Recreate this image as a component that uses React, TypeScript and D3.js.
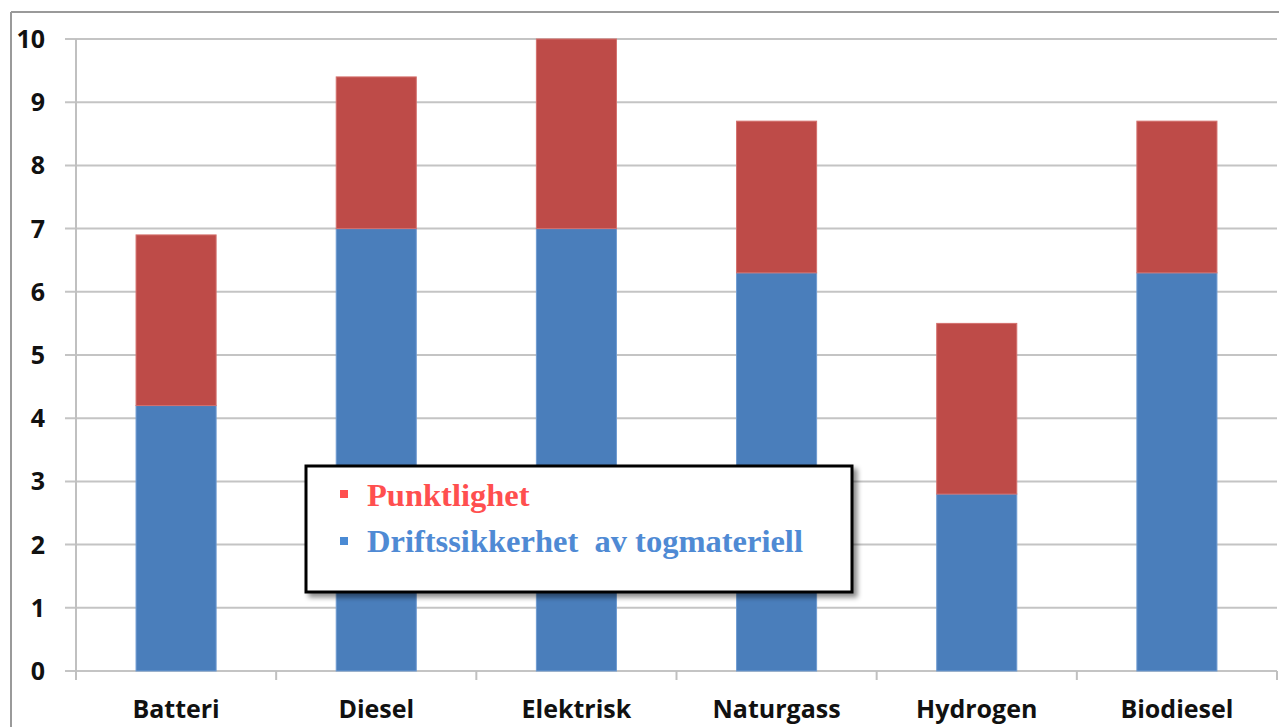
import React from "react";
import * as d3 from "d3";

const categories = ["Batteri", "Diesel", "Elektrisk", "Naturgass", "Hydrogen", "Biodiesel"];
const driftssikkerhet = [4.2, 7.0, 7.0, 6.3, 2.8, 6.3];
const punktlighet = [2.7, 2.4, 3.0, 2.4, 2.7, 2.4];
const yTicks = [0, 1, 2, 3, 4, 5, 6, 7, 8, 9, 10];
const legendLabels = ["Punktlighet", "Driftssikkerhet  av togmateriell"];

const W = 1279;
const H = 727;
const BLUE = "#4a7ebb";
const RED = "#be4b48";

export default function App() {
  const x = d3.scaleBand<string>().domain(categories).range([76, 1277]).paddingInner(0.6).paddingOuter(0.3);
  const y = d3.scaleLinear().domain([0, 10]).range([671, 39]);
  const step = x.step();
  const stacked = d3.stack<any>().keys(["drift", "punkt"])(
    categories.map((c, i) => ({ cat: c, drift: driftssikkerhet[i], punkt: punktlighet[i] }))
  );
  const colors = [BLUE, RED];
  const font = "'Open Sans', 'DejaVu Sans', sans-serif";
  const serif = "'Liberation Serif', 'Times New Roman', serif";
  return (
    <svg width={W} height={H} style={{ position: "absolute", left: 0, top: 0, background: "#fff" }}>
      <defs>
        <filter id="shadow" x="-10%" y="-10%" width="130%" height="140%">
          <feDropShadow dx="4" dy="4" stdDeviation="2.5" floodColor="#000" floodOpacity="0.45" />
        </filter>
      </defs>
      {/* outer frame */}
      <line x1={11} x2={11} y1={12} y2={H} stroke="#9a9a9a" strokeWidth={2} />
      <line x1={11} x2={W} y1={12} y2={12} stroke="#9a9a9a" strokeWidth={2} />
      {/* gridlines */}
      {yTicks.map((t) => (
        <line key={t} x1={65} x2={1277} y1={y(t)} y2={y(t)} stroke="#c4c4c4" strokeWidth={2} />
      ))}
      {/* y axis */}
      <line x1={76} x2={76} y1={y(10)} y2={y(0) + 9} stroke="#c0c0c0" strokeWidth={2} />
      {/* category ticks */}
      {categories.map((c, i) => (
        <line key={c} x1={76 + step * (i + 1)} x2={76 + step * (i + 1)} y1={y(0)} y2={y(0) + 9} stroke="#c0c0c0" strokeWidth={2} />
      ))}
      {/* bars */}
      {stacked.map((s, si) =>
        s.map((d, i) => (
          <rect
            key={si + "-" + i}
            x={x(categories[i])!}
            width={x.bandwidth()}
            y={y(d[1])}
            height={y(d[0]) - y(d[1])}
            fill={colors[si]}
            stroke={si === 0 ? "#6f9bd1" : "#d4706d"}
            strokeWidth={1}
          />
        ))
      )}
      {/* y tick labels */}
      {yTicks.map((t) => (
        <text key={t} x={45} y={y(t)} dy="0.36em" textAnchor="end" fontFamily={font} fontWeight={700} fontSize={25} fill="#111">
          {t}
        </text>
      ))}
      {/* category labels */}
      {categories.map((c) => (
        <text key={c} x={x(c)! + x.bandwidth() / 2} y={718} textAnchor="middle" fontFamily={font} fontWeight={700} fontSize={25} fill="#111">
          {c}
        </text>
      ))}
      {/* legend */}
      <g>
        <rect x={306} y={466} width={546} height={126} fill="#fff" stroke="#000" strokeWidth={3} filter="url(#shadow)" />
        <rect x={340} y={490} width={8} height={8} fill="#ff4f4f" />
        <text x={367} y={506} fontFamily={serif} fontWeight={700} fontSize={32.5} fill="#ff4f4f" style={{ whiteSpace: "pre" }}>
          {legendLabels[0]}
        </text>
        <rect x={340} y={537} width={8} height={8} fill="#4a8ad4" />
        <text x={367} y={552} fontFamily={serif} fontWeight={700} fontSize={32.5} fill="#4f8ad4" style={{ whiteSpace: "pre" }}>
          {legendLabels[1]}
        </text>
      </g>
    </svg>
  );
}
